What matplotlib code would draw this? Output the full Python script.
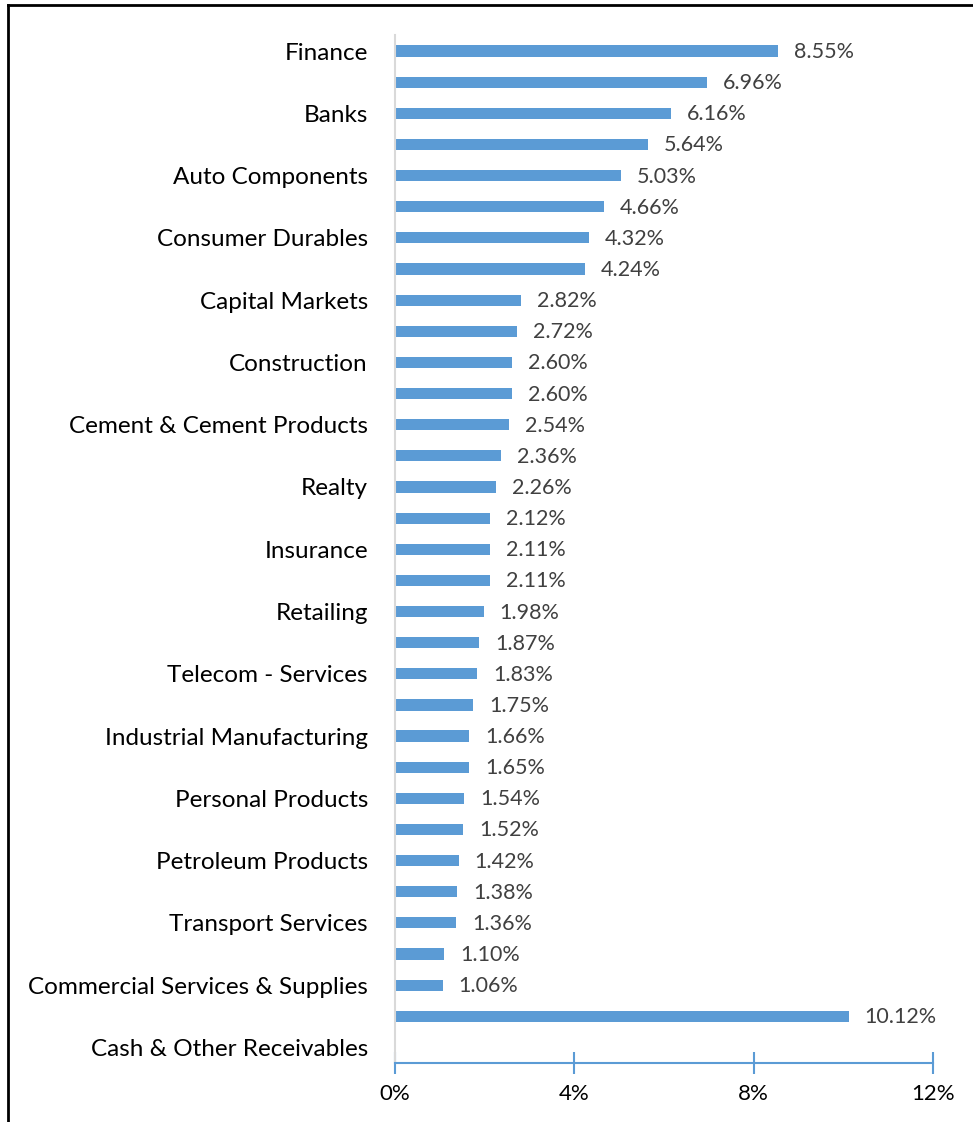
import numpy as np
import matplotlib
matplotlib.use('Agg')
from matplotlib import pyplot as plt
from matplotlib.ticker import FuncFormatter

plt.rcParams['font.family'] = ['Lato', 'DejaVu Sans']

# every second sector name is hidden on the axis, as in the original chart
sectors = ['Finance', '', 'Banks', '', 'Auto Components', '', 'Consumer Durables', '',
           'Capital Markets', '', 'Construction', '', 'Cement & Cement Products', '',
           'Realty', '', 'Insurance', '', 'Retailing', '', 'Telecom - Services', '',
           'Industrial Manufacturing', '', 'Personal Products', '', 'Petroleum Products', '',
           'Transport Services', '', 'Commercial Services & Supplies', '',
           'Cash & Other Receivables']
weights = [8.55, 6.96, 6.16, 5.64, 5.03, 4.66, 4.32, 4.24, 2.82, 2.72, 2.60, 2.60,
           2.54, 2.36, 2.26, 2.12, 2.11, 2.11, 1.98, 1.87, 1.83, 1.75, 1.66, 1.65,
           1.54, 1.52, 1.42, 1.38, 1.36, 1.10, 1.06, 10.12, np.nan]
x_ticks = [0, 4, 8, 12]

W, H = 973, 1122
fig = plt.figure(figsize=(W / 100, H / 100), dpi=100)
ax = fig.add_axes([395 / W, 1 - 1063 / H, (933 - 395) / W, (1063 - 35.5) / H])

pos = np.arange(len(sectors))
vals = np.array(weights, dtype=float)
bar_color = '#5B9BD5'
ax.barh(pos, np.nan_to_num(vals), height=0.36, color=bar_color)

for p, v in zip(pos, vals):
    if np.isnan(v):
        continue
    ax.annotate(f'{v:.2f}%', (v, p), xytext=(16, -1), textcoords='offset pixels',
                va='center', ha='left', fontsize=15.5, color='#404040')

ax.set_ylim(len(sectors) - 0.5, -0.5)
ax.set_xlim(0, 12)
ax.set_yticks(pos)
ax.set_yticklabels(sectors, fontsize=17.5, color='#000000')
ax.tick_params(axis='y', length=0, pad=19.5)
ax.set_xticks(x_ticks)
ax.xaxis.set_major_formatter(FuncFormatter(lambda v, _: f'{v:.0f}%'))
ax.tick_params(axis='x', direction='inout', length=16, width=1.5, color=bar_color,
               labelsize=16, labelcolor='#000000', pad=7.3)

for s in ['top', 'right']:
    ax.spines[s].set_visible(False)
ax.spines['left'].set_color('#D9D9D9')
ax.spines['left'].set_linewidth(1.5)
ax.spines['bottom'].set_color(bar_color)
ax.spines['bottom'].set_linewidth(1.5)

# chart frame (only top and left edges are inside the picture)
fig.add_artist(plt.Line2D([7.5 / W, 1], [1 - 5 / H, 1 - 5 / H], color='black', lw=2))
fig.add_artist(plt.Line2D([7.5 / W, 7.5 / W], [0, 1 - 5 / H], color='black', lw=2))

fig.savefig('out.png', dpi=100)
